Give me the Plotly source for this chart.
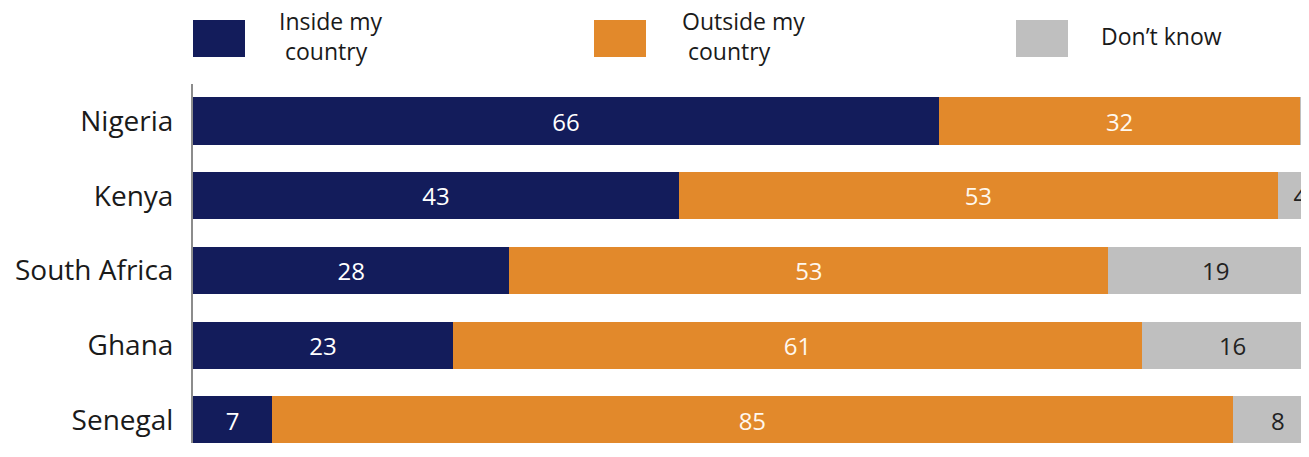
import plotly.graph_objects as go

countries = ["Nigeria", "Kenya", "South Africa", "Ghana", "Senegal"]
inside = [66, 43, 28, 23, 7]
outside = [32, 53, 53, 61, 85]
dont_know = [2, 4, 19, 16, 8]
series_names = ["Inside my<br>&nbsp;country", "Outside my<br>&nbsp;country", "Don\u2019t know"]

NAVY = "#131c5b"
ORANGE = "#e2892b"
GRAY = "#bfbfbf"
FONT = "Open Sans"

# page has an 8px body margin; figure coords = page coords - 8
OFF = 8
W, H = 1309 - OFF, 457 - 2 * OFF - 6
L, T = 193 - OFF, 84 - OFF

# category centres in the reference sit at page y = 121 + 74.75*i
Y0, DY = 121.0, 74.75
y_top = (84 - Y0) / DY
y_bot = (H + OFF - Y0) / DY

fig = go.Figure()
for vals, color, tcolor, name in [
    (inside, NAVY, "white", "Inside my country"),
    (outside, ORANGE, "#fff8ee", "Outside my country"),
    (dont_know, GRAY, "#222222", "Don't know"),
]:
    fig.add_trace(go.Bar(
        y=countries, x=vals, orientation="h", name=name,
        marker=dict(color=color, line=dict(width=0)),
        text=[str(v) for v in vals], textposition="inside",
        insidetextanchor="middle", textangle=0,
        textfont=dict(family=FONT, size=24, color=tcolor),
        showlegend=False, hoverinfo="skip",
    ))

fig.update_layout(
    barmode="stack", bargap=0.37,
    width=W, height=H,
    margin=dict(l=L, r=0, t=T, b=0),
    paper_bgcolor="white", plot_bgcolor="white",
    uniformtext=dict(minsize=24, mode="show"),
    xaxis=dict(range=[0, 98.76], showgrid=False, zeroline=False,
               showticklabels=False, showline=False, fixedrange=True),
    yaxis=dict(range=[y_bot, y_top], showgrid=False, zeroline=False,
               showline=True, linecolor="#8c8c8c", linewidth=2,
               ticks="", ticklabelstandoff=12,
               tickfont=dict(family=FONT, size=28, color="#1a1a1a")),
)

# manual legend (large swatches), page-pixel positions
legend_items = [
    (193, 245, NAVY, 278, series_names[0]),
    (594, 646, ORANGE, 681, series_names[1]),
    (1016, 1068, GRAY, 1100, series_names[2]),
]
PW, PH = W - L, H - T
def px(x):
    return (x - OFF - L) / PW
def py(y):
    return (H - (y - OFF)) / PH

for x0, x1, col, tx, label in legend_items:
    fig.add_shape(type="rect", xref="paper", yref="paper",
                  x0=px(x0), x1=px(x1), y0=py(57), y1=py(20),
                  fillcolor=col, line=dict(width=0), layer="above")
    fig.add_annotation(xref="paper", yref="paper",
                       x=px(tx), y=py(36),
                       xanchor="left", yanchor="middle", align="left",
                       text=label, showarrow=False, borderpad=0,
                       font=dict(family=FONT, size=23, color="#1a1a1a"))

fig.write_html("out.html")
